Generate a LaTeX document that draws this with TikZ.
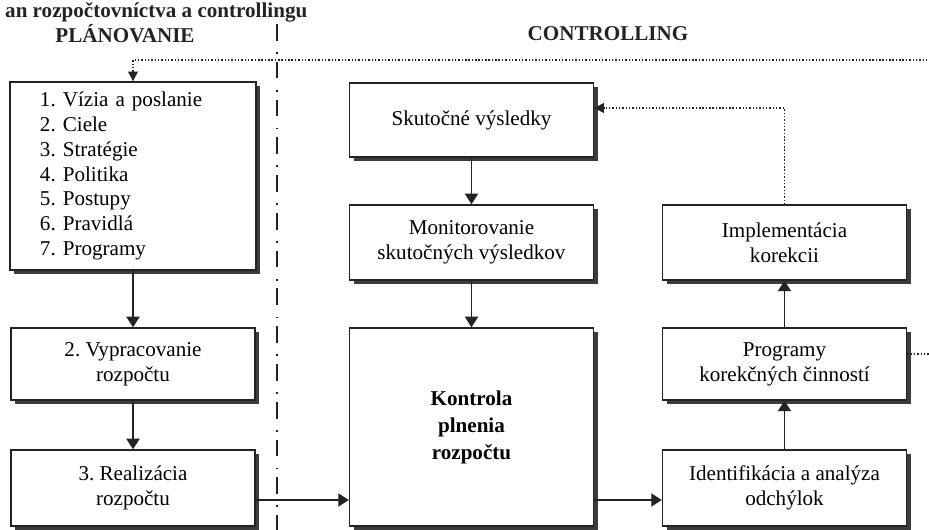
\documentclass[tikz,border=0pt]{standalone}
\usepackage{fontspec}
\setmainfont{Liberation Serif}
\usepackage{tikz}
\usetikzlibrary{arrows.meta, positioning, calc, shadows}
\definecolor{mydark}{RGB}{35,35,35}
\definecolor{myshadow}{RGB}{60,60,60}
\frenchspacing
\tikzset{
  block/.style={rectangle, draw=mydark, fill=white,
    minimum width=4.88cm, align=center,
    font=\fontsize{12}{14.2}\selectfont, line width=0.8pt,
    drop shadow={shadow xshift=2.4pt, shadow yshift=-2.4pt, fill=myshadow, opacity=1}},
  header/.style={font=\fontsize{12}{14}\selectfont\bfseries, color=mydark},
  arrow/.style={-{Triangle[width=7.5pt,length=6pt]}, line width=0.8pt, color=mydark},
  fbarrow/.style={-{Triangle[width=5.5pt,length=5.5pt]}, dash pattern=on 0.8pt off 1.1pt,
    line width=0.8pt, color=mydark},
  divider/.style={line width=0.9pt, color=mydark,
    dash pattern=on 9.5pt off 6.5pt on 1pt off 4.5pt}
}

\begin{document}
\begin{tikzpicture}
  \useasboundingbox (0,0) rectangle (18.58,10.6);

  % headings
  \node[header, anchor=base west] (title) at (-0.02,10.24) {an rozpočtovníctva a controllingu};
  \node[header] (planhead) at (2.5,9.92) {PLÁNOVANIE};
  \node[header] (ctrlhead) at (12.16,9.92) {CONTROLLING};
  \draw[divider] (5.54,10.12) -- (5.54,0);

  % planning column
  \node[block, minimum height=3.76cm, text width=3.72cm, inner xsep=0.6cm, align=left] (plan) at (2.66,7.08)
    {1. Vízia a poslanie\\2. Ciele\\3. Stratégie\\4. Politika\\5. Postupy\\6. Pravidlá\\7. Programy};
  \node[block, minimum height=1.44cm] (budget) at (2.66,3.32) {2. Vypracovanie\\rozpočtu};
  \node[block, minimum height=1.52cm] (real) at (2.66,0.84) {3. Realizácia\\rozpočtu};

  % controlling columns
  \node[block, minimum height=1.48cm] (actual) at (9.43,8.2) {Skutočné výsledky};
  \node[block, minimum height=1.5cm] (monitor) at (9.43,5.75) {Monitorovanie\\skutočných výsledkov};
  \node[block, minimum height=3.96cm, font=\fontsize{12}{15.4}\selectfont\bfseries] (check) at (9.43,2.06)
    {Kontrola\\plnenia\\rozpočtu};
  \node[block, minimum height=1.5cm] (impl) at (15.69,5.75) {Implementácia\\korekcii};
  \node[block, minimum height=1.44cm] (prog) at (15.69,3.32) {Programy\\korekčných činností};
  \node[block, minimum height=1.52cm] (ident) at (15.69,0.84) {Identifikácia a analýza\\odchýlok};

  % solid flow
  \draw[arrow] (plan) -- (budget);
  \draw[arrow] (budget) -- (real);
  \draw[arrow] (actual) -- (monitor);
  \draw[arrow] (monitor) -- (check);
  \draw[arrow] (ident) -- (prog);
  \draw[arrow] (prog) -- (impl);
  \coordinate (flow) at ([yshift=-0.24cm]real.east);
  \draw[arrow] (flow) -- (flow -| check.west);
  \draw[arrow] (flow -| check.east) -- (flow -| ident.west);

  % dotted feedback
  \coordinate (topleft) at (2.66,9.4);
  \draw[fbarrow] ([yshift=0.2cm]prog.east) -- ++(0.9,0) |- (topleft) -- (plan.north);
  \draw[fbarrow] (impl.north) |- ([yshift=0.24cm]actual.east);
\end{tikzpicture}
\end{document}
